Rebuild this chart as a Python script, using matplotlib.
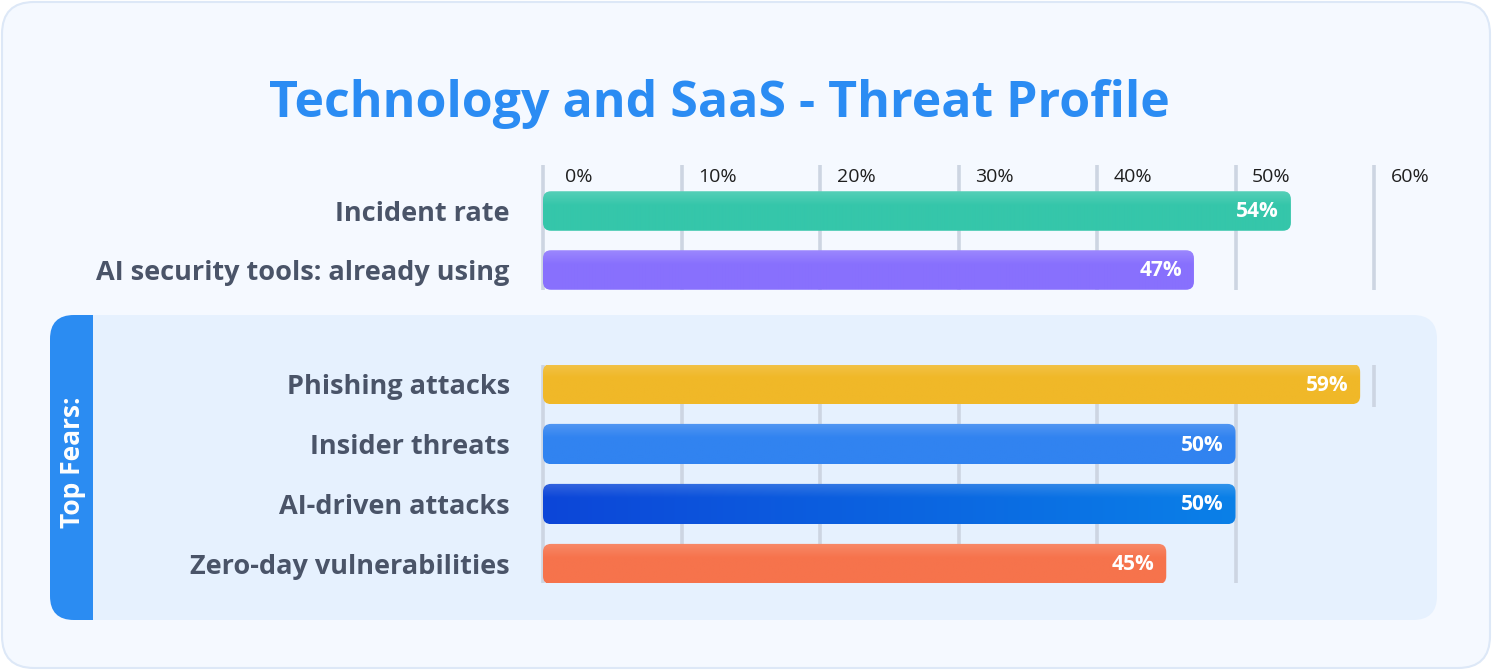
import numpy as np
import matplotlib
matplotlib.use("Agg")
import matplotlib.pyplot as plt
from matplotlib.patches import FancyBboxPatch, Rectangle
from matplotlib.colors import to_rgb

# ---------------- data ----------------
title = "Technology and SaaS - Threat Profile"
top_categories = ["Incident rate", "AI security tools: already using"]
top_values = [54, 47]
top_colors = ["#35c6aa", "#8870fd"]

fear_categories = ["Phishing attacks", "Insider threats", "AI-driven attacks",
                   "Zero-day vulnerabilities"]
fear_values = [59, 50, 50, 45]
fear_colors = ["#f0b828", "#3183f0", ("#0d46d8", "#0a80e8"), "#f6734c"]
panel_label = "Top Fears:"

tick_values = [0, 10, 20, 30, 40, 50, 60]
tick_labels = ["0%", "10%", "20%", "30%", "40%", "50%", "60%"]

# ---------------- style ----------------
W, H = 1492, 670
DPI = 100
FONT = "Open Sans"
LABEL_COLOR = "#4a5468"
GRID_COLOR = "#cdd5e2"
TITLE_COLOR = "#2b8cf3"
CARD_FILL = "#f5f9ff"
CARD_EDGE = "#dde8f7"
PANEL_FILL = "#e6f1fe"
STRIP_COLOR = "#2b8cf2"

plt.rcParams["font.family"] = [FONT, "DejaVu Sans"]

fig = plt.figure(figsize=(W / DPI, H / DPI), dpi=DPI)
fig.patch.set_facecolor("white")

# background layer in pixel coordinates
bg = fig.add_axes([0, 0, 1, 1])
bg.set_xlim(0, W)
bg.set_ylim(H, 0)
bg.axis("off")

bg.add_patch(FancyBboxPatch((2, 2), W - 4, H - 4,
                            boxstyle="round,pad=0,rounding_size=32",
                            fc=CARD_FILL, ec=CARD_EDGE, lw=1.5))
bg.add_patch(FancyBboxPatch((50, 315), 1387, 305,
                            boxstyle="round,pad=0,rounding_size=24",
                            fc=PANEL_FILL, ec="none"))
bg.add_patch(FancyBboxPatch((50, 315), 90, 305,
                            boxstyle="round,pad=0,rounding_size=24",
                            fc=STRIP_COLOR, ec="none"))
bg.add_patch(Rectangle((93, 315), 70, 305, fc=PANEL_FILL, ec="none"))

bg.text(72, 462, panel_label, rotation=90, ha="center", va="center",
        color="white", fontsize=19, fontweight="bold", family=FONT)

fig.text(719 / W, 1 - 104 / H, title, ha="center", va="center",
         color=TITLE_COLOR, fontsize=36, fontweight="bold", family=FONT)


def px_axes(x0, x1, y0, y1):
    return fig.add_axes([x0 / W, 1 - y1 / H, (x1 - x0) / W, (y1 - y0) / H])


X0, X60 = 543, 1374
BAR_H = 0.67
RADIUS_PX = 8


def shade(base, n_rows, n_cols):
    if isinstance(base, tuple):
        c0 = np.array(to_rgb(base[0]))
        c1 = np.array(to_rgb(base[1]))
        t = np.linspace(0, 1, n_cols)[None, :, None]
        img = c0 * (1 - t) + c1 * t
        img = np.repeat(img, n_rows, axis=0)
    else:
        img = np.ones((n_rows, n_cols, 3)) * np.array(to_rgb(base))
    r = np.linspace(0, 1, n_rows)[:, None, None]
    light = np.clip(0.16 * (1 - r / 0.35), 0, None)
    img = img * (1 - light) + light
    return img


def draw_section(ax, cats, vals, colors, ylim, row_px, short_last=None):
    ax.set_xlim(0, 60)
    ax.set_ylim(*ylim)
    ax.axis("on")
    for s in ax.spines.values():
        s.set_visible(False)
    ax.patch.set_alpha(0)
    ax.set_xticks([])
    ypos = np.arange(len(cats))
    ax.set_yticks(ypos)
    ax.set_yticklabels(cats, fontsize=19.5, fontweight="bold", color=LABEL_COLOR,
                       family=FONT)
    ax.tick_params(axis="y", length=0, pad=24)

    for tv in tick_values:
        if short_last is not None and tv == tick_values[-1]:
            ax.axvline(tv, ymin=short_last, ymax=1, color=GRID_COLOR, lw=2.6,
                       zorder=0, clip_on=False, solid_capstyle="butt")
        else:
            ax.axvline(tv, color=GRID_COLOR, lw=2.6, zorder=0, clip_on=False,
                       solid_capstyle="butt")

    bars = ax.barh(ypos, vals, height=BAR_H, color="none", zorder=1)
    px_x = (X60 - X0) / 60.0
    rx = RADIUS_PX / px_x
    asp = px_x / row_px
    for rect, v, col in zip(bars.patches, vals, colors):
        x, y = rect.get_x(), rect.get_y()
        w, h = rect.get_width(), rect.get_height()
        rect.set_visible(False)
        patch = FancyBboxPatch((x, y), w, h,
                               boxstyle=f"round,pad=0,rounding_size={rx}",
                               mutation_aspect=asp, fc="none", ec="none",
                               zorder=2)
        ax.add_patch(patch)
        img = shade(col, 40, 200)
        im = ax.imshow(img, extent=(x, x + w, y + h, y), aspect="auto",
                       zorder=2, interpolation="bilinear")
        im.set_clip_path(patch)
        ax.annotate(f"{v}%", xy=(x + w, y + h / 2), xytext=(-12, -1),
                    textcoords="offset pixels", ha="right", va="center",
                    color="white", fontsize=15, fontweight="bold",
                    family=FONT, zorder=3)
    ax.set_xlim(0, 60)
    ax.set_ylim(*ylim)


# top section
ax_top = px_axes(X0, X60, 165, 290)
row_top = 59.0
draw_section(ax_top, top_categories, top_values, top_colors,
             ((290 - 211) / row_top, (165 - 211) / row_top), row_top)
for tv, tl in zip(tick_values, tick_labels):
    ax_top.annotate(tl, xy=(tv, (177 - 211) / row_top), xytext=(36, 0),
                    textcoords="offset pixels", ha="center", va="center",
                    fontsize=14, color="#1f1f1f", family=FONT)

# bottom section
ax_bot = px_axes(X0, X60, 365, 583)
row_bot = 60.0
draw_section(ax_bot, fear_categories, fear_values, fear_colors,
             ((583 - 384) / row_bot, (365 - 384) / row_bot), row_bot,
             short_last=(583 - 407) / (583 - 365))

fig.savefig("out.png", dpi=DPI)
